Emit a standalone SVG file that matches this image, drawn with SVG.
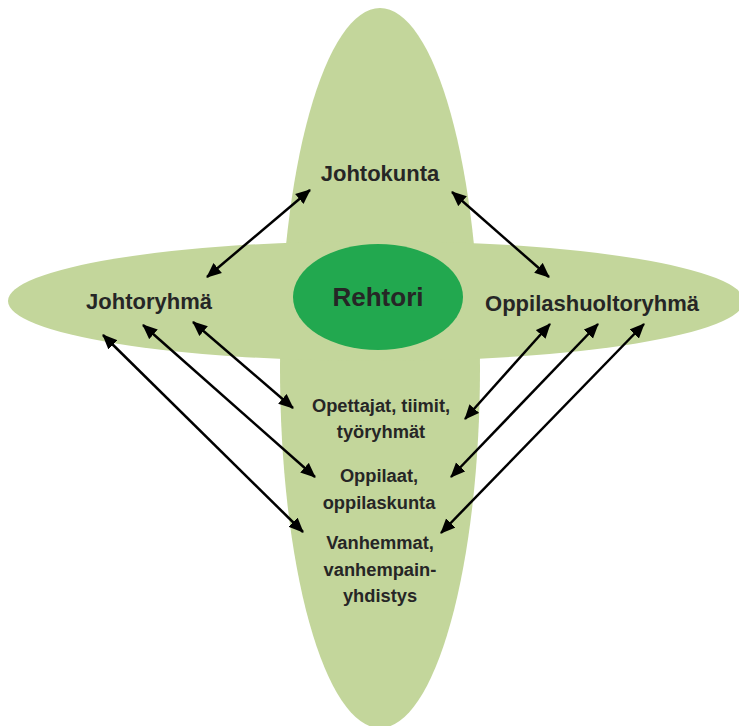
<svg xmlns="http://www.w3.org/2000/svg" width="739" height="726" viewBox="0 0 739 726">
<style>
.bg{fill:#c3d69b;}
.big{font-family:"Liberation Sans",Arial,sans-serif;font-weight:bold;font-size:22px;fill:#262626;text-anchor:middle;}
.small{font-family:"Liberation Sans",Arial,sans-serif;font-weight:bold;font-size:18.3px;fill:#262626;text-anchor:middle;}
.conn line{stroke:#000;stroke-width:2.5;marker-start:url(#ah);marker-end:url(#ah);}
</style>
<defs>
<marker id="ah" markerUnits="userSpaceOnUse" markerWidth="17" markerHeight="14" refX="14" refY="6.5" orient="auto-start-reverse" viewBox="0 0 17 13">
<path d="M0,0 L15,6.5 L0,13 Z" fill="#000"/>
</marker>
</defs>
<rect width="739" height="726" fill="#fff"/>
<g id="shapes">
<ellipse class="bg" cx="380" cy="368" rx="100" ry="360"/>
<ellipse class="bg" cx="376" cy="301" rx="368" ry="60"/>
</g>
<g id="rehtori">
<ellipse cx="378" cy="297" rx="85" ry="53" fill="#22a84f"/>
<text class="big" x="378" y="306" style="font-size:26px">Rehtori</text>
</g>
<g id="johtokunta"><text class="big" x="380" y="181">Johtokunta</text></g>
<g id="johtoryhma"><text class="big" x="149" y="309">Johtoryhmä</text></g>
<g id="oppilashuoltoryhma"><text class="big" x="592" y="311">Oppilashuoltoryhmä</text></g>
<g id="opettajat">
<text class="small" x="381" y="412">Opettajat, tiimit,</text>
<text class="small" x="381" y="438">työryhmät</text>
</g>
<g id="oppilaat">
<text class="small" x="379" y="482">Oppilaat,</text>
<text class="small" x="379" y="509">oppilaskunta</text>
</g>
<g id="vanhemmat">
<text class="small" x="380" y="549">Vanhemmat,</text>
<text class="small" x="380" y="576">vanhempain-</text>
<text class="small" x="380" y="602">yhdistys</text>
</g>
<g class="conn" id="connectors">
<line x1="207" y1="277" x2="310" y2="190"/>
<line x1="452" y1="192" x2="549" y2="277"/>
<line x1="193" y1="322" x2="293" y2="408"/>
<line x1="143" y1="325" x2="315" y2="477"/>
<line x1="103" y1="335" x2="303" y2="532"/>
<line x1="550" y1="324" x2="465" y2="419"/>
<line x1="598" y1="324" x2="451" y2="477"/>
<line x1="644" y1="324" x2="441" y2="533"/>
</g>
</svg>
